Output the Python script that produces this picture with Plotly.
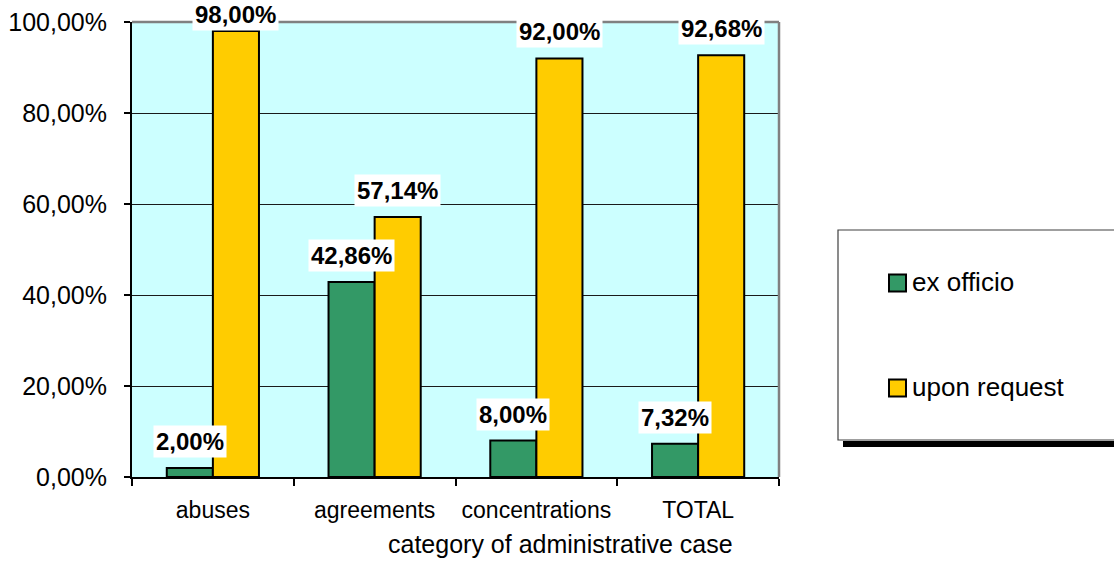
import plotly.graph_objects as go

# Share of administrative cases by initiation mode, in percent
categories = ["abuses", "agreements", "concentrations", "TOTAL"]
ex_officio = [2.00, 42.86, 8.00, 7.32]
upon_request = [98.00, 57.14, 92.00, 92.68]
series_names = ["ex officio", "upon request"]
y_ticks = [0, 20, 40, 60, 80, 100]
x_title = "category of administrative case"

GREEN = "#339966"
YELLOW = "#FFCC00"
FONT = "Liberation Sans, Arial, sans-serif"

W, H = 1114, 573
L, R, T, B = 132, 335, 22, 96
PW, PH = W - L - R, H - T - B


def fmt(v):
    return f"{v:.2f}".replace(".", ",") + "%"


def px_x(px):
    return (px - L) / PW


def px_y(py):
    return (H - B - py) / PH


fig = go.Figure()
for name, vals, col in [(series_names[0], ex_officio, GREEN),
                        (series_names[1], upon_request, YELLOW)]:
    fig.add_trace(go.Bar(
        x=categories, y=vals, name=name,
        marker=dict(color=col, line=dict(color="black", width=2)),
        showlegend=False,
    ))

# value labels above each bar, kept inside the page at the top
annotations = []
nb = 2
bargap = 0.43
bar_w = (1 - bargap) / nb
for si, vals in enumerate([ex_officio, upon_request]):
    for ci, v in enumerate(vals):
        xc = ci - (1 - bargap) / 2 + bar_w * (si + 0.5)
        top_px = (1 - v / 100) * PH  # distance of bar top below plot top
        shift = min(10, top_px + T - 31)
        annotations.append(dict(
            x=xc, y=v, xref="x", yref="y", text=f"<b>{fmt(v)}</b>",
            showarrow=False, yanchor="bottom", xanchor="center", yshift=shift,
            bgcolor="white", borderpad=2,
            font=dict(family=FONT, size=24, color="black"),
        ))

# axis title centred on the whole chart
annotations.append(dict(
    x=px_x(W / 2 + 3), y=px_y(544), xref="paper", yref="paper", text=x_title,
    showarrow=False, xanchor="center", yanchor="middle",
    font=dict(family=FONT, size=25, color="black")))

# legend box with drop shadow
shapes = [
    dict(type="rect", xref="paper", yref="paper",
         x0=px_x(843), x1=px_x(1125), y0=px_y(447), y1=px_y(441),
         fillcolor="black", line=dict(width=0), layer="above"),
    dict(type="rect", xref="paper", yref="paper",
         x0=px_x(838), x1=px_x(1125), y0=px_y(440), y1=px_y(230),
         fillcolor="white", line=dict(color="#404040", width=1.2), layer="above"),
    # plot area frame: grey top and right edges
    dict(type="line", xref="paper", yref="paper", x0=0, x1=1, y0=1, y1=1,
         line=dict(color="#808080", width=2.5), layer="above"),
    dict(type="line", xref="paper", yref="paper", x0=1, x1=1, y0=0, y1=1,
         line=dict(color="#808080", width=2.5), layer="above"),
]
for (name, col, cy) in [(series_names[0], GREEN, 283), (series_names[1], YELLOW, 388)]:
    shapes.append(dict(
        type="rect", xref="paper", yref="paper",
        x0=px_x(889), x1=px_x(906), y0=px_y(cy + 8.5), y1=px_y(cy - 8.5),
        fillcolor=col, line=dict(color="black", width=2), layer="above"))
    annotations.append(dict(
        x=px_x(910), y=px_y(cy - 1), xref="paper", yref="paper", text=name,
        showarrow=False, xanchor="left", yanchor="middle",
        font=dict(family=FONT, size=26, color="black")))

fig.update_layout(
    width=W, height=H,
    margin=dict(l=L, r=R, t=T, b=B, pad=0, autoexpand=False),
    paper_bgcolor="white", plot_bgcolor="#CCFFFF",
    barmode="group", bargap=bargap, bargroupgap=0,
    font=dict(family=FONT, size=22, color="black"),
    shapes=shapes, annotations=annotations,
)
fig.update_xaxes(
    type="category", tickson="boundaries", ticks="outside", ticklen=7,
    tickwidth=1.5, tickcolor="black",
    showline=True, linecolor="black", linewidth=2,
    tickfont=dict(size=23), ticklabelstandoff=11,
    showgrid=False, range=[-0.5, 3.5], automargin=False,
)
fig.update_yaxes(
    range=[0, 100], tickvals=y_ticks, ticktext=[fmt(v) for v in y_ticks],
    ticks="outside", ticklen=6, tickwidth=1.5, tickcolor="black",
    showline=True, linecolor="black", linewidth=2,
    showgrid=True, gridcolor="#1a1a1a", gridwidth=1,
    tickfont=dict(size=25), zeroline=False, ticklabelstandoff=12,
    automargin=False,
)

fig.write_html("out.html")
